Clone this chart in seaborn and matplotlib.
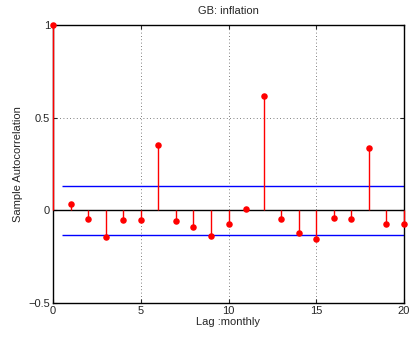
import matplotlib
matplotlib.use("Agg")
import matplotlib.pyplot as plt
import seaborn as sns
import numpy as np
import pandas as pd

lags = list(range(0, 21))
acf_values = [1.0, 0.036, -0.045, -0.144, -0.052, -0.052, 0.351, -0.058, -0.088, -0.14,
              -0.072, 0.009, 0.616, -0.049, -0.123, -0.153, -0.043, -0.049, 0.337, -0.072, -0.072]
upper_bound = 0.133
lower_bound = -0.135
bound_start = 0.5
x_ticks = [0, 5, 10, 15, 20]
y_ticks = [-0.5, 0, 0.5, 1]
y_tick_labels = ["\u22120.5", "0", "0.5", "1"]

sns.set_style("white")
plt.rcParams['font.family'] = ['Liberation Sans', 'DejaVu Sans']
plt.rcParams['font.size'] = 8

df = pd.DataFrame({"lag": lags, "acf": acf_values})

fig = plt.figure(figsize=(4.11, 3.38), dpi=100)
ax = fig.add_axes([53/411, 35/338, 351/411, 278/338])

ax.vlines(df["lag"], 0, df["acf"], color="red", linewidth=1.0, zorder=3, clip_on=False)
sns.scatterplot(data=df, x="lag", y="acf", ax=ax, color="red", s=22, edgecolor="red",
                linewidth=0, zorder=5, legend=False, clip_on=False)
ax.axhline(0, color="black", linewidth=1.0, zorder=2)
ax.hlines([upper_bound, lower_bound], bound_start, 20, color="blue", linewidth=1.0, zorder=2)

ax.set_xlim(0, 20)
ax.set_ylim(-0.5, 1)
ax.set_xticks(x_ticks)
ax.set_yticks(y_ticks)
ax.set_yticklabels(y_tick_labels)
ax.grid(True, linestyle=(0, (1, 3)), color="#555555", linewidth=0.6)
ax.tick_params(direction="in", length=3, width=0.8, labelsize=8, pad=2, top=True, right=True,
               bottom=True, left=True)
for s in ax.spines.values():
    s.set_color("black")
    s.set_linewidth(1.0)
    s.set_visible(True)

ax.set_title("GB: inflation", fontsize=8, pad=8)
ax.set_xlabel("Lag :monthly", fontsize=8, labelpad=1)
ax.set_ylabel("Sample Autocorrelation", fontsize=8, labelpad=4)

fig.savefig("out.png", dpi=100)
